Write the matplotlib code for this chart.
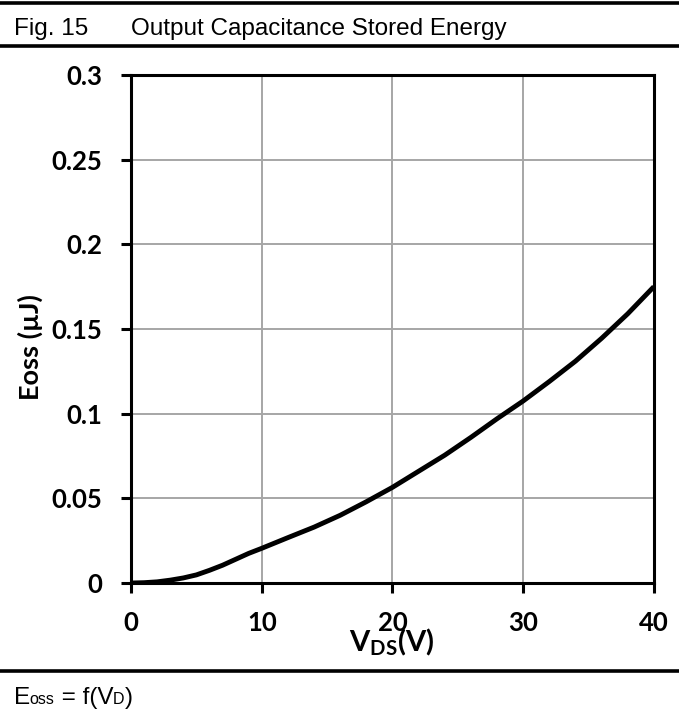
import matplotlib.pyplot as plt
from matplotlib.lines import Line2D
from matplotlib.offsetbox import AnchoredOffsetbox, HPacker, TextArea

plt.rcParams["mathtext.fontset"] = "custom"
plt.rcParams["mathtext.rm"] = "Lato:bold"
plt.rcParams["mathtext.bf"] = "Lato:bold"

# drain-source voltage (V) and stored energy (uJ)
VDS = [0, 1, 2, 3, 4, 5, 6, 7, 8, 9, 10, 12, 14, 16, 18, 20, 22, 24, 26, 28, 30,
       32, 34, 36, 38, 40]
EOSS = [0.0, 0.0002, 0.0007, 0.0017, 0.0030, 0.0048, 0.0075, 0.0105, 0.0140,
        0.0175, 0.0205, 0.0268, 0.0330, 0.0400, 0.0480, 0.0565, 0.0660, 0.0755,
        0.0860, 0.0970, 0.1075, 0.1190, 0.1310, 0.1445, 0.1590, 0.1750]
XTICKS = [0, 10, 20, 30, 40]
YTICKS = [0, 0.05, 0.1, 0.15, 0.2, 0.25, 0.3]
YTICKLABELS = ["0", "0.05", "0.1", "0.15", "0.2", "0.25", "0.3"]

HEAD_FONT = "Liberation Sans"
TICK_FONT = "Lato"

fig = plt.figure(figsize=(6.79, 7.13), dpi=100)
ax = fig.add_axes([0.193, 0.1823, 0.770, 0.7125])

ax.plot(VDS, EOSS, color="black", linewidth=3.5, solid_capstyle="butt", zorder=3)

ax.set_xlim(0, 40)
ax.set_ylim(0, 0.3)
ax.set_xticks(XTICKS)
ax.set_yticks(YTICKS)
ax.set_yticklabels(YTICKLABELS)
ax.grid(True, color="#a6a6a6", linewidth=1.4)
ax.set_axisbelow(True)
for spine in ax.spines.values():
    spine.set_color("black")
    spine.set_linewidth(2.2)
ax.tick_params(direction="out", length=7, width=2.2, color="black", labelsize=18.5)
ax.tick_params(axis="x", pad=13)
ax.tick_params(axis="y", pad=14)
for lbl in ax.get_xticklabels() + ax.get_yticklabels():
    lbl.set_fontfamily(TICK_FONT)
    lbl.set_fontweight("bold")

fig.text(0.044, 0.5133, "Eoss (µJ)", rotation=90, ha="center", va="center",
         fontsize=19.5, fontweight="bold", family=TICK_FONT)
fig.text(0.5766, 0.086, r"V$_{\rm DS}$(V)", ha="center", va="baseline",
         fontsize=21, fontweight="bold", family=TICK_FONT)

# title band and caption rules
for yy in (0.9958, 0.9355, 0.0589):
    fig.add_artist(Line2D([0, 1], [yy, yy], transform=fig.transFigure,
                          color="black", linewidth=2.6))

fig.text(0.021, 0.951, "Fig. 15", fontsize=17.5, family=HEAD_FONT,
         ha="left", va="baseline")
fig.text(0.1925, 0.951, "Output Capacitance Stored Energy", fontsize=17.5,
         family=HEAD_FONT, ha="left", va="baseline")

big = dict(fontsize=17.5, family=HEAD_FONT)
small = dict(fontsize=11.5, family=HEAD_FONT)
parts = [TextArea("E", textprops=big), TextArea("oss", textprops=small),
         TextArea(" = f(V", textprops=big), TextArea("D", textprops=small),
         TextArea(")", textprops=big)]
box = HPacker(children=parts, align="baseline", pad=0, sep=0)
anchored = AnchoredOffsetbox(loc="lower left", child=box, frameon=False,
                             bbox_to_anchor=(0.02, 0.006),
                             bbox_transform=fig.transFigure, borderpad=0, pad=0)
fig.add_artist(anchored)

fig.savefig("out.png", dpi=100)
